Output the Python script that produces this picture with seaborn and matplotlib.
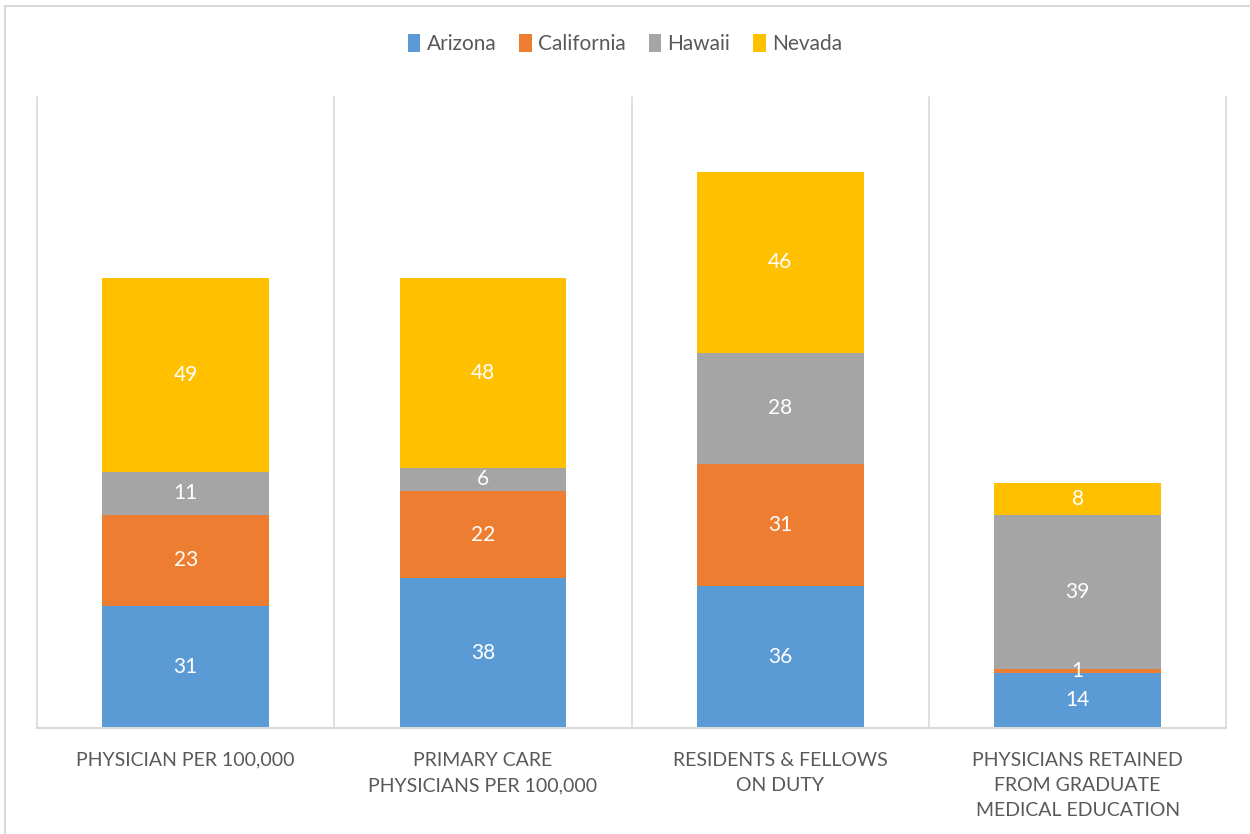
import matplotlib
matplotlib.use("Agg")
import matplotlib.pyplot as plt
from matplotlib.patches import Rectangle, Patch
import numpy as np
import pandas as pd
import seaborn as sns

# data
categories = ["PHYSICIAN PER 100,000",
              "PRIMARY CARE\nPHYSICIANS PER 100,000",
              "RESIDENTS & FELLOWS\nON DUTY",
              "PHYSICIANS RETAINED\nFROM GRADUATE\nMEDICAL EDUCATION"]
states = ["Arizona", "California", "Hawaii", "Nevada"]
arizona = [31, 38, 36, 14]
california = [23, 22, 31, 1]
hawaii = [11, 6, 28, 39]
nevada = [49, 48, 46, 8]
colors = ["#5b9bd5", "#ed7d31", "#a5a5a5", "#ffc000"]

df = pd.DataFrame({"category": categories, "Arizona": arizona,
                   "California": california, "Hawaii": hawaii, "Nevada": nevada})

sns.set_style("white")
plt.rcParams["font.family"] = ["Lato", "DejaVu Sans"]

fig = plt.figure(figsize=(12.5, 8.34), dpi=100)
ax = fig.add_axes([0.0296, 0.127, 0.9514, 0.757])

# stack the series one on top of the other
bottom = np.zeros(len(categories))
for state, col in zip(states, colors):
    sns.barplot(data=df, x="category", y=state, color=col, width=0.56,
                errorbar=None, bottom=bottom, ax=ax, saturation=1, linewidth=0)
    bottom = bottom + df[state].to_numpy()

for cont in ax.containers:
    ax.bar_label(cont, label_type="center", color="white", fontsize=15)

ax.set_ylim(0, 160)
ax.set_xlim(-0.5, 3.5)
ax.set_ylabel("")
ax.set_xlabel("")
ax.set_yticks([])
ax.set_xticks(range(len(categories)))
ax.set_xticklabels(categories, color="#595959", fontsize=14, linespacing=1.6)
ax.tick_params(axis="x", which="both", length=0, pad=17)
ax.grid(False)
for x in np.arange(-0.5, 4.0, 1.0):
    ax.axvline(x, color="#d9d9d9", lw=1.2, zorder=0, clip_on=False)
for s in ["left", "right", "top"]:
    ax.spines[s].set_visible(False)
ax.spines["bottom"].set_color("#d9d9d9")
ax.spines["bottom"].set_linewidth(1.5)

handles = [Patch(facecolor=c, edgecolor="none") for c in colors]
fig.legend(handles, states, loc="center", bbox_to_anchor=(0.5, 0.947), ncol=4,
           frameon=False, fontsize=15, handlelength=0.6, handleheight=0.9,
           handletextpad=0.3, columnspacing=1.1, labelcolor="#595959")

fig.patches.append(Rectangle((0.004, -0.01), 1.1, 1.003, transform=fig.transFigure,
                             fill=False, edgecolor="#d9d9d9", lw=1.5))

fig.savefig("out.png", dpi=100)
